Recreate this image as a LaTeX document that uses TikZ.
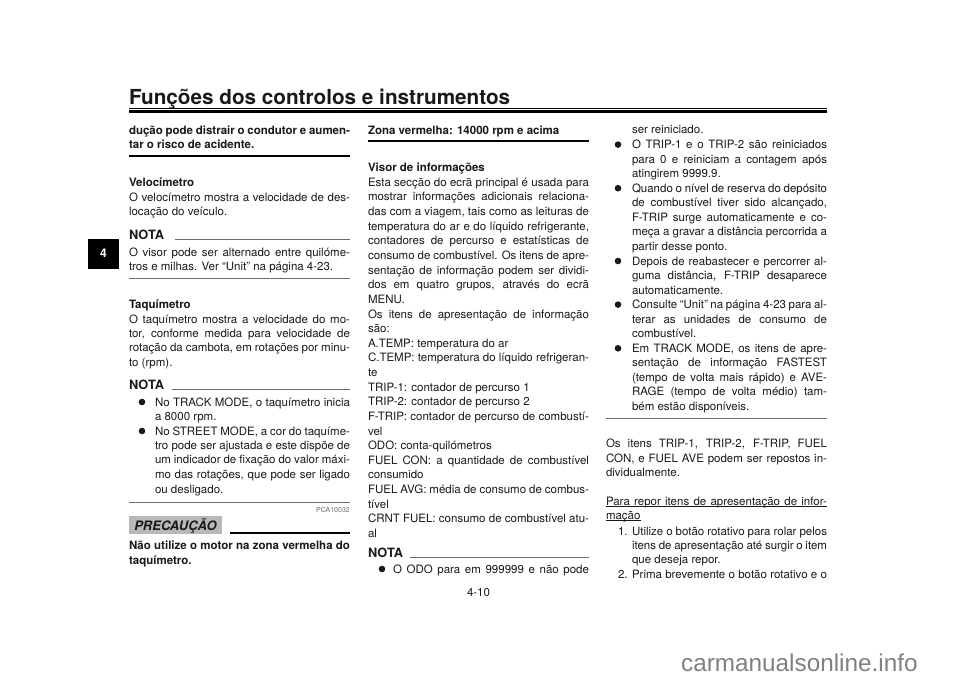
\documentclass[tikz,border=0pt]{standalone}
\usepackage{fontspec}
\setmainfont{TeX Gyre Heros}
\newfontfamily\wmfont{Liberation Sans}
\definecolor{ink}{gray}{0.1}
\definecolor{softrule}{gray}{0.42}
\newcounter{lc}
\newsavebox\lnbox
\newlength\lnw
\newcommand\body{\fontsize{11.5}{14}\selectfont}
\tikzset{
  ln/.style={anchor=base west,inner sep=0pt,outer sep=0pt,text=ink},
  blackrule/.style={draw=black,line width=1.1pt},
  grayrule/.style={draw=softrule,line width=1pt}
}
% flush-left line: [font]{x}{y}{text}
\newcommand\LL[4][]{\stepcounter{lc}\node[ln,font=\body#1] (t\arabic{lc}) at (#2,#3) {#4};}
% justified line: [font]{x}{x2}{y}{text}
\newcommand\JJ[5][]{\stepcounter{lc}\setlength\lnw{\dimexpr#3pt-#2pt\relax}%
  \sbox\lnbox{\body#1\relax#5}%
  \node[ln] (t\arabic{lc}) at (#2,#4) {\ifdim\wd\lnbox>\lnw\resizebox{\lnw}{\height}{\usebox\lnbox}\else\makebox[\lnw][s]{\body#1\relax#5}\fi};}
\newcommand\BUL[2]{\fill[ink] (#1,#2-4) circle (3.3);}
\begin{document}
\begin{tikzpicture}[x=1pt,y=-1pt]
\useasboundingbox (0,0) rectangle (960,679);
\fill[white] (0,0) rectangle (960,679);
% header
\LL[\fontsize{20.7}{24}\selectfont\bfseries]{129}{104.5}{Funções dos controlos e instrumentos}
\draw[draw=black,line width=0.9pt] (129,108) -- (827,108);
\draw[draw=black,line width=2.4pt] (129,111.5) -- (827,111.5);
% tab
\fill[black] (88,239) rectangle (119,269);
\node[anchor=center,inner sep=0pt,text=white,font=\fontsize{12}{14}\selectfont\bfseries] (tab) at (103.5,253.5) {4};
% column 1
\JJ[\bfseries]{129}{350}{135}{dução pode distrair o condutor e aumen-}
\LL[\bfseries]{129}{149}{tar o risco de acidente.}
\draw[blackrule] (129,156) -- (350,156);
\LL[\bfseries]{129}{186.7}{Velocímetro}
\JJ{129}{350}{201}{O velocímetro mostra a velocidade de des-}
\LL{129}{215}{locação do veículo.}
\LL[\fontsize{12.8}{14}\selectfont\bfseries]{129}{239}{NOTA}
\draw[grayrule] (175,239) -- (350,239);
\JJ{129}{350}{256}{O visor pode ser alternado entre quilóme-}
\LL{129}{270}{tros e milhas. Ver “Unit” na página 4-23.}
\draw[grayrule] (129,278.7) -- (350,278.7);
\LL[\bfseries]{129}{308}{Taquímetro}
\JJ{129}{350}{323}{O taquímetro mostra a velocidade do mo-}
\JJ{129}{350}{337}{tor, conforme medida para velocidade de}
\JJ{129}{350}{351.5}{rotação da cambota, em rotações por minu-}
\LL{129}{366}{to (rpm).}
\LL[\fontsize{12.8}{14}\selectfont\bfseries]{129}{389}{NOTA}
\draw[grayrule] (172,389) -- (350,389);
\BUL{142}{406}
\JJ{155}{350}{406}{No TRACK MODE, o taquímetro inicia}
\LL{155}{420}{a 8000 rpm.}
\BUL{142}{435}
\JJ{155}{350}{435}{No STREET MODE, a cor do taquíme-}
\JJ{155}{350}{449}{tro pode ser ajustada e este dispõe de}
\JJ{155}{350}{463.5}{um indicador de fixação do valor máxi-}
\JJ{155}{350}{478}{mo das rotações, que pode ser ligado}
\LL{155}{493}{ou desligado.}
\draw[grayrule] (129,502) -- (350,502);
\node[anchor=base east,inner sep=0pt,text=softrule,font=\fontsize{7}{8}\selectfont] (code) at (350,512) {PCA10032};
\fill[black!28] (129,516) rectangle (222,534);
\node[anchor=base,inner sep=0pt,text=ink,font=\fontsize{13}{14}\selectfont\bfseries\itshape] (prec) at (175.5,530) {PRECAUÇÃO};
\draw[blackrule] (230,533) -- (350,533);
\JJ[\bfseries]{129}{350}{549}{Não utilize o motor na zona vermelha do}
\LL[\bfseries]{129}{564}{taquímetro.}
% column 2
\LL[\bfseries]{368}{135}{Zona vermelha: 14000 rpm e acima}
\draw[blackrule] (368,141) -- (589,141);
\LL[\bfseries]{368}{171.5}{Visor de informações}
\JJ{368}{589}{186.3}{Esta secção do ecrã principal é usada para}
\JJ{368}{589}{200.9}{mostrar informações adicionais relaciona-}
\JJ{368}{589}{215.6}{das com a viagem, tais como as leituras de}
\JJ{368}{589}{230.2}{temperatura do ar e do líquido refrigerante,}
\JJ{368}{589}{244.8}{contadores de percurso e estatísticas de}
\JJ{368}{589}{259.5}{consumo de combustível. Os itens de apre-}
\JJ{368}{589}{274.1}{sentação de informação podem ser dividi-}
\JJ{368}{589}{288.7}{dos em quatro grupos, através do ecrã}
\LL{368}{303.3}{MENU.}
\JJ{368}{589}{318}{Os itens de apresentação de informação}
\LL{368}{332.6}{são:}
\LL{368}{347.2}{A.TEMP: temperatura do ar}
\JJ{368}{589}{361.9}{C.TEMP: temperatura do líquido refrigeran-}
\LL{368}{376.5}{te}
\LL{368}{391.1}{TRIP-1: contador de percurso 1}
\LL{368}{405.8}{TRIP-2: contador de percurso 2}
\JJ{368}{589}{420.4}{F-TRIP: contador de percurso de combustí-}
\LL{368}{435}{vel}
\LL{368}{449.6}{ODO: conta-quilómetros}
\JJ{368}{589}{464.3}{FUEL CON: a quantidade de combustível}
\LL{368}{478.9}{consumido}
\JJ{368}{589}{493.5}{FUEL AVG: média de consumo de combus-}
\LL{368}{508.2}{tível}
\JJ{368}{589}{522.8}{CRNT FUEL: consumo de combustível atu-}
\LL{368}{537.4}{al}
\LL[\fontsize{12.8}{14}\selectfont\bfseries]{368}{557}{NOTA}
\draw[grayrule] (410,557) -- (589,557);
\BUL{382}{573}
\JJ{393}{589}{573}{O ODO para em 999999 e não pode}
% column 3
\LL{632}{134}{ser reiniciado.}
\BUL{618}{148.6}
\JJ{632}{827}{148.6}{O TRIP-1 e o TRIP-2 são reiniciados}
\JJ{632}{827}{163.1}{para 0 e reiniciam a contagem após}
\LL{632}{177.7}{atingirem 9999.9.}
\BUL{618}{192.2}
\JJ{632}{827}{192.2}{Quando o nível de reserva do depósito}
\JJ{632}{827}{206.8}{de combustível tiver sido alcançado,}
\JJ{632}{827}{221.3}{F-TRIP surge automaticamente e co-}
\JJ{632}{827}{235.9}{meça a gravar a distância percorrida a}
\LL{632}{250.4}{partir desse ponto.}
\BUL{618}{265}
\JJ{632}{827}{265}{Depois de reabastecer e percorrer al-}
\JJ{632}{827}{279.5}{guma distância, F-TRIP desaparece}
\LL{632}{294.1}{automaticamente.}
\BUL{618}{308.6}
\JJ{632}{827}{308.6}{Consulte “Unit” na página 4-23 para al-}
\JJ{632}{827}{323.2}{terar as unidades de consumo de}
\LL{632}{337.7}{combustível.}
\BUL{618}{352.3}
\JJ{632}{827}{352.3}{Em TRACK MODE, os itens de apre-}
\JJ{632}{827}{366.8}{sentação de informação FASTEST}
\JJ{632}{827}{381.4}{(tempo de volta mais rápido) e AVE-}
\JJ{632}{827}{395.9}{RAGE (tempo de volta médio) tam-}
\LL{632}{410.5}{bém estão disponíveis.}
\draw[grayrule] (606,418) -- (827,418);
\JJ{606}{827}{447}{Os itens TRIP-1, TRIP-2, F-TRIP, FUEL}
\JJ{606}{827}{462}{CON, e FUEL AVE podem ser repostos in-}
\LL{606}{476}{dividualmente.}
\JJ{606}{827}{505}{Para repor itens de apresentação de infor-}
\draw[draw=ink,line width=0.7pt] (606,506.5) -- (827,506.5);
\LL{606}{519}{mação}
\draw[draw=ink,line width=0.7pt] (606,520.5) -- (641,520.5);
\LL{618}{535}{1.}
\JJ{632}{827}{535}{Utilize o botão rotativo para rolar pelos}
\JJ{632}{827}{549}{itens de apresentação até surgir o item}
\LL{632}{563.5}{que deseja repor.}
\LL{618}{578}{2.}
\JJ{632}{827}{578}{Prima brevemente o botão rotativo e o}
% footer
\LL{467}{596}{4-10}
\node[anchor=base west,inner sep=0pt,text=black!50,font=\wmfont\fontsize{24.3}{30}\selectfont] (wm) at (681,671) {carmanualsonline.info};
\end{tikzpicture}
\end{document}
